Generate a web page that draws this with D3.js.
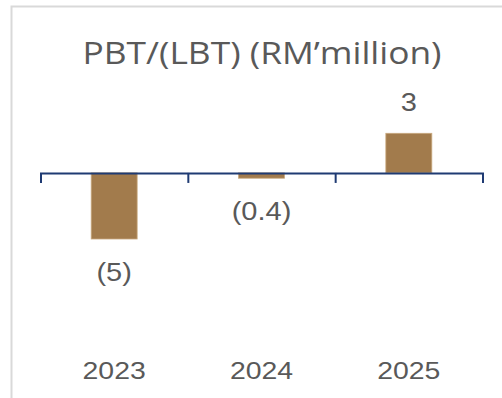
<!DOCTYPE html>
<html>
<head>
<meta charset="utf-8">
<script src="https://cdn.jsdelivr.net/npm/d3@7"></script>
<style>
  html, body { margin: 0; padding: 0; background: #fff; }
  svg { display: block; }
</style>
</head>
<body>
<svg id="chart" width="502" height="398"></svg>
<script>
// PBT/(LBT) by financial year, RM million
const years = ["2023", "2024", "2025"];
const values = [-5, -0.4, 3];
const valueLabels = ["(5)", "(0.4)", "3"];
const titleText = "PBT/(LBT) (RM\u2019million)";

const W = 502, H = 398;
const svg = d3.select("#chart");

const textColor = "#595959";
const barColor = "#A27B4C";
const axisColor = "#1F3B73";

// light frame on the left and top edges
svg.append("path")
  .attr("d", `M11.5,${H} V6.5 H${W}`)
  .attr("fill", "none")
  .attr("stroke", "#d9d9d9")
  .attr("stroke-width", 2);

// scales
const x = d3.scaleBand().domain(years).range([40.5, 482.5]).padding(0);
const xEdge = d3.scaleLinear().domain([0, years.length]).range([40.5, 482.5]);
const y = d3.scaleLinear().domain([-5, 3]).range([239, 133.3]);
const barW = x.bandwidth() * 0.312;

// title
svg.append("text")
  .attr("transform", "translate(262,64) scale(1.14,1)")
  .attr("text-anchor", "middle")
  .attr("font-family", "'Open Sans', sans-serif")
  .attr("font-size", 31)
  .attr("fill", textColor)
  .text(titleText);

// bars
svg.append("g").selectAll("rect")
  .data(values)
  .join("rect")
  .attr("x", (d, i) => x(years[i]) + x.bandwidth() / 2 - barW / 2)
  .attr("y", d => y(Math.max(0, d)))
  .attr("width", barW)
  .attr("height", d => Math.abs(y(d) - y(0)))
  .attr("fill", barColor)
  .attr("stroke", "#C9A97F")
  .attr("stroke-width", 0.8);

// category axis on the zero line with ticks at category boundaries
const axis = d3.axisBottom(xEdge)
  .tickValues(d3.range(years.length + 1))
  .tickSize(10)
  .tickSizeOuter(10)
  .tickFormat("");
const gAxis = svg.append("g")
  .attr("transform", `translate(0,${y(0)})`)
  .call(axis);
gAxis.selectAll("path, line")
  .attr("stroke", axisColor)
  .attr("stroke-width", 2);

// stretched label helper
function label(g, cx, baseline, txt, size) {
  g.append("text")
    .attr("transform", `translate(${cx},${baseline}) scale(1.16,1)`)
    .attr("text-anchor", "middle")
    .attr("font-family", "'Liberation Sans', Arial, sans-serif")
    .attr("font-size", size)
    .attr("fill", textColor)
    .text(txt);
}

// value labels
const gLab = svg.append("g");
values.forEach((v, i) => {
  const cx = x(years[i]) + x.bandwidth() / 2;
  const base = v < 0 ? y(v) + 42 : y(v) - 22;
  label(gLab, cx, base, valueLabels[i], 25);
});

// year labels
const gYear = svg.append("g");
years.forEach(yr => {
  label(gYear, x(yr) + x.bandwidth() / 2, 379, yr, 24.5);
});
</script>
</body>
</html>
